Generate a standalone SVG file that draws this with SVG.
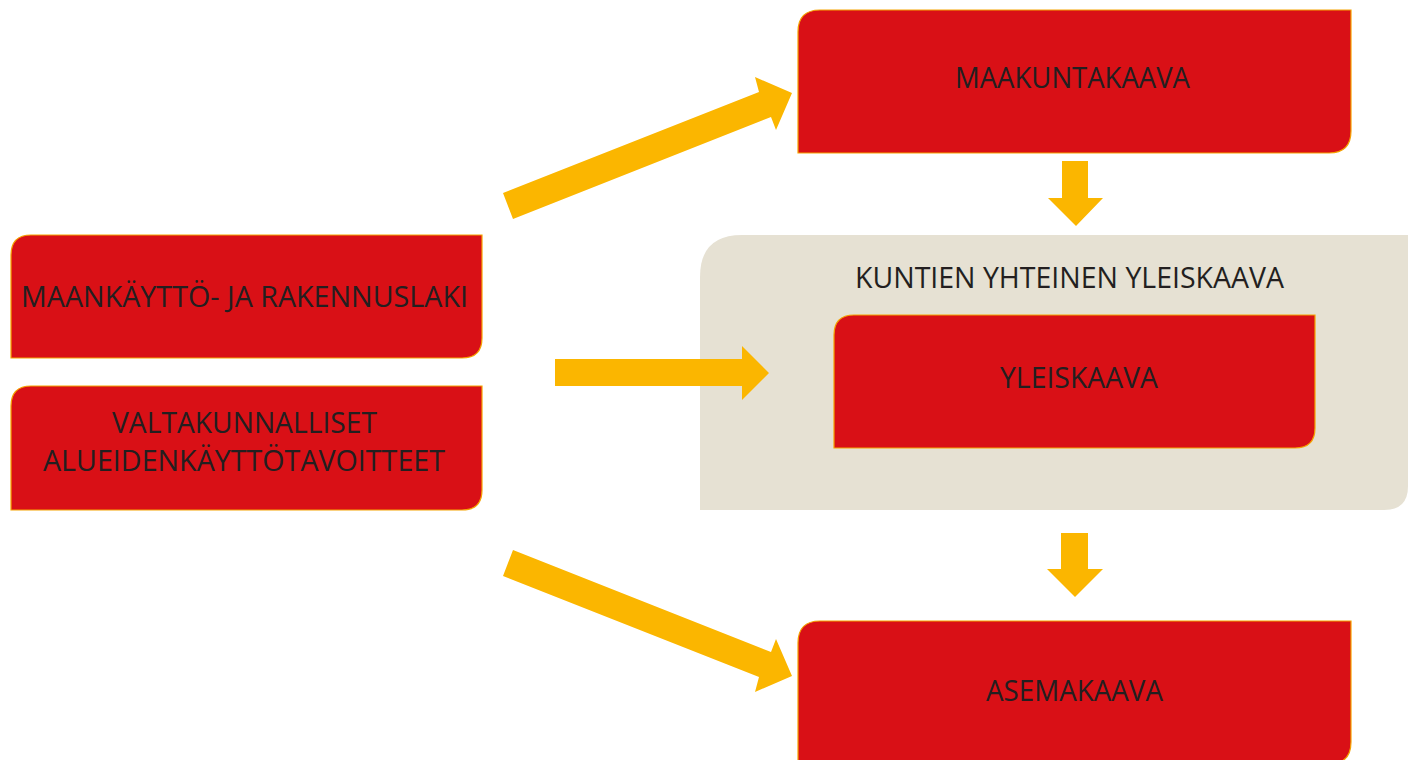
<svg xmlns="http://www.w3.org/2000/svg" width="1408" height="760" viewBox="0 0 1408 760">
<style>
.box{fill:#D91016;stroke:#F5A300;stroke-width:1.2}
.lbl{font-family:"Open Sans","Noto Sans",sans-serif;font-size:30px;fill:#231F20;text-anchor:middle}
.arr{fill:#FBB600}
</style>
<rect width="1408" height="760" fill="#FFFFFF"/>
<g id="container-kuntien">
<path d="M700,277 Q700,235 742,235 L1408,235 L1408,486 Q1408,510 1384,510 L700,510 Z" fill="#E6E1D3"/>
<text class="lbl" x="1069.5" y="288" textLength="429" lengthAdjust="spacingAndGlyphs">KUNTIEN YHTEINEN YLEISKAAVA</text>
</g>
<g id="node-mrl">
<path class="box" d="M11,255 Q11,235 31,235 L482,235 L482,338 Q482,358 462,358 L11,358 Z"/>
<text class="lbl" x="244.5" y="307" textLength="447" lengthAdjust="spacingAndGlyphs">MAANKÄYTTÖ- JA RAKENNUSLAKI</text>
</g>
<g id="node-vat">
<path class="box" d="M11,406 Q11,386 31,386 L482,386 L482,490 Q482,510 462,510 L11,510 Z"/>
<text class="lbl" x="244.5" y="433" textLength="265" lengthAdjust="spacingAndGlyphs">VALTAKUNNALLISET</text>
<text class="lbl" x="244" y="471" textLength="402" lengthAdjust="spacingAndGlyphs">ALUEIDENKÄYTTÖTAVOITTEET</text>
</g>
<g id="node-maakuntakaava">
<path class="box" d="M798,32 Q798,10 820,10 L1351,10 L1351,131 Q1351,153 1329,153 L798,153 Z"/>
<text class="lbl" x="1072.5" y="88" textLength="235" lengthAdjust="spacingAndGlyphs">MAAKUNTAKAAVA</text>
</g>
<g id="node-yleiskaava">
<path class="box" d="M834,335 Q834,315 854,315 L1315,315 L1315,428 Q1315,448 1295,448 L834,448 Z"/>
<text class="lbl" x="1079" y="388" textLength="158" lengthAdjust="spacingAndGlyphs">YLEISKAAVA</text>
</g>
<g id="node-asemakaava">
<path class="box" d="M798,643 Q798,621 820,621 L1351,621 L1351,742 Q1351,764 1329,764 L798,764 Z"/>
<text class="lbl" x="1074.5" y="701" textLength="177" lengthAdjust="spacingAndGlyphs">ASEMAKAAVA</text>
</g>
<g id="connectors">
<polygon class="arr" points="503,193 759,92 755,77 792,93 776,130 771,117 513,219"/>
<polygon class="arr" points="503,576 759,677 755,692 792,676 776,639 771,652 513,550"/>
<polygon class="arr" points="555,359 742,359 742,346 769,373 742,400 742,386 555,386"/>
<polygon class="arr" points="1062,161 1088,161 1088,198 1103,198 1076,226 1048,198 1062,198"/>
<polygon class="arr" points="1061,533 1088,533 1088,569 1103,569 1075,597 1047,569 1061,569"/>
</g>
</svg>
